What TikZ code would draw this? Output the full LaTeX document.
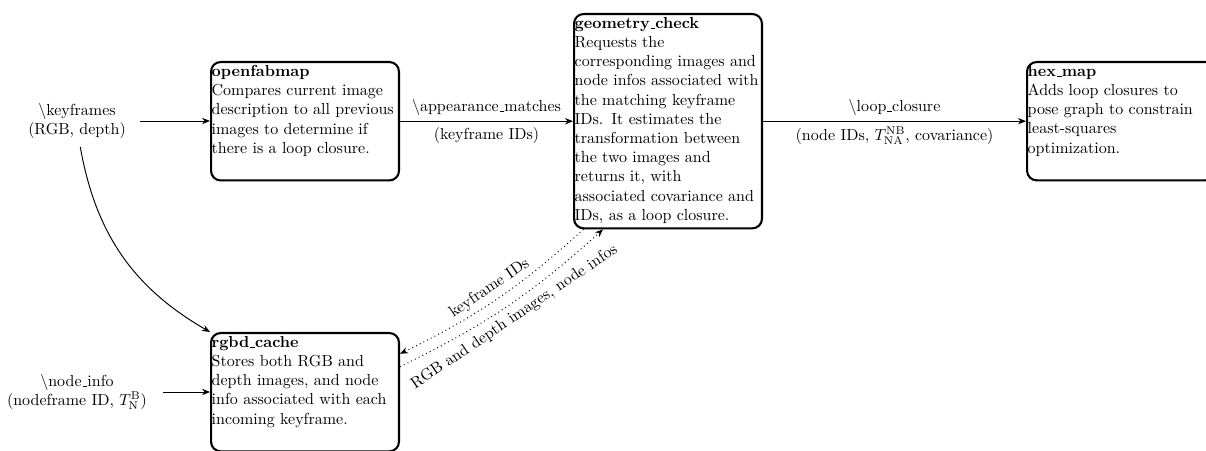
\documentclass[tikz,border=0pt]{standalone}
\usetikzlibrary{arrows.meta}
% short low rule used for underscores in identifiers
\newcommand{\uscore}{\leavevmode\kern.06em\vbox{\hrule width.3em}}
\tikzset{
  module/.style={draw, line width=1.3pt, rounded corners=6pt, anchor=north west,
    text width=4.1cm, align=left, inner xsep=0.4pt, inner ysep=2pt},
  shortmod/.style={module, text depth=63pt},
  flow/.style={line width=0.6pt, -{Stealth[length=5pt,width=4pt]}},
  msg/.style={dotted, line width=0.6pt, -{Stealth[length=5pt,width=4pt]}},
  topic/.style={align=center, inner ysep=5pt},
}
\begin{document}
\begin{tikzpicture}[x=0.625pt, y=0.625pt]
  \path[use as bounding box] (0,0) rectangle (1206,451);
  \clip (0,0) rectangle (1206,451);

  % processing modules
  \node[shortmod] (ofm) at (210,390) {\textbf{openfabmap}\\
    Compares current image\\ description to all previous\\
    images to determine if\\ there is a loop closure.};
  \node[module, text depth=123pt] (geo) at (573,438) {\textbf{geometry\uscore check}\\
    Requests the\\ corresponding images and\\ node infos associated with\\
    the matching keyframe\\ IDs. It estimates the\\ transformation between\\
    the two images and\\ returns it, with\\ associated covariance and\\
    IDs, as a loop closure.};
  \node[shortmod] (hex) at (1026,390) {\textbf{hex\uscore map}\\
    Adds loop closures to\\ pose graph to constrain\\ least-squares\\ optimization.};
  \node[shortmod] (rgbd) at (210,119) {\textbf{rgbd\uscore cache}\\
    Stores both RGB and\\ depth images, and node\\ info associated with each\\
    incoming keyframe.};

  % input topics
  \node[topic, inner xsep=8.5pt] (kf) at (77,330) {\textbackslash keyframes\\(RGB, depth)};
  \node[topic, inner xsep=10pt] (ni) at (77,59)
    {\textbackslash node\uscore info\\(nodeframe ID, $T^{\mathrm{B}}_{\mathrm{N}}$)};

  % data flow
  \draw[flow] (kf.east) -- (kf.east -| ofm.west);
  \draw[flow] (ofm.east) -- node[above] {\textbackslash appearance\uscore matches}
    node[below] {(keyframe IDs)} (ofm.east -| geo.west);
  \draw[flow] (geo.east |- hex.west) -- node[above] {\textbackslash loop\uscore closure}
    node[below] {(node IDs, $T^{\mathrm{NB}}_{\mathrm{NA}}$, covariance)} (hex.west);
  \draw[flow] (kf) to[bend right=25] (rgbd.north west);
  \draw[flow] (ni.east) -- (ni.east -| rgbd.west);

  % service requests between geometry_check and rgbd_cache
  \draw[msg] (geo.232) to[bend left=8] node[above, sloped] {keyframe IDs} (rgbd.22);
  \draw[msg] (rgbd.15) to[bend right=8]
    node[below, sloped] {RGB and depth images, node infos} (geo.239);
\end{tikzpicture}
\end{document}
